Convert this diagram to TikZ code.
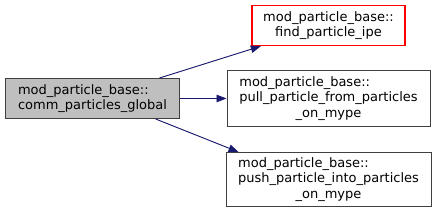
\documentclass[tikz,border=0pt]{standalone}
\usepackage{fontspec}
\setmainfont{DejaVu Sans}
\usepackage{tikz}
\usetikzlibrary{arrows.meta, positioning}

% first line left-aligned on the width of the second
\newcommand{\firstln}[2]{\makebox[0pt][l]{#1}\phantom{#2}\\#2}

\definecolor{edgeblue}{HTML}{191970}
\definecolor{nodegray}{HTML}{BFBFBF}
\definecolor{framegray}{HTML}{404040}
\definecolor{truncred}{HTML}{FF0000}

\begin{document}
\begin{tikzpicture}[
    x=1pt, y=1pt,
    fn/.style={
        rectangle,
        draw=framegray,
        line width=1pt,
        align=center,
        inner ysep=4pt,
        font=\fontsize{13}{15.3}\selectfont
    },
    truncated/.style={draw=truncred, line width=1.4pt},
    call/.style={
        -{Triangle[length=10pt, width=7.5pt]},
        draw=edgeblue,
        fill=edgeblue,
        line width=0.9pt
    }
]
\useasboundingbox (0,0) rectangle (436,213);

% === Caller ===
\node[fn, fill=nodegray, minimum width=174pt, minimum height=40pt] (comm) at (92.5,114.5)
    {\firstln{mod\_particle\_base::}{comm\_particles\_global}};

% === Callees ===
\node[fn, truncated, minimum width=153pt, minimum height=40pt] (findipe) at (328.5,187.5)
    {mod\_particle\_base::\\find\_particle\_ipe};
\node[fn, minimum width=203pt, minimum height=56pt] (pull) at (328.5,114.5)
    {\firstln{mod\_particle\_base::}{pull\_particle\_from\_particles}\\\_on\_mype};
\node[fn, minimum width=205pt, minimum height=54pt] (push) at (328.5,33.5)
    {\firstln{mod\_particle\_base::}{push\_particle\_into\_particles}\\\_on\_mype};

% === Calls ===
\draw[call] (comm.17) -- (findipe.197);
\draw[call] (comm.east) -- (pull.west);
\draw[call] (comm.-18) -- (push.163);
\end{tikzpicture}
\end{document}
